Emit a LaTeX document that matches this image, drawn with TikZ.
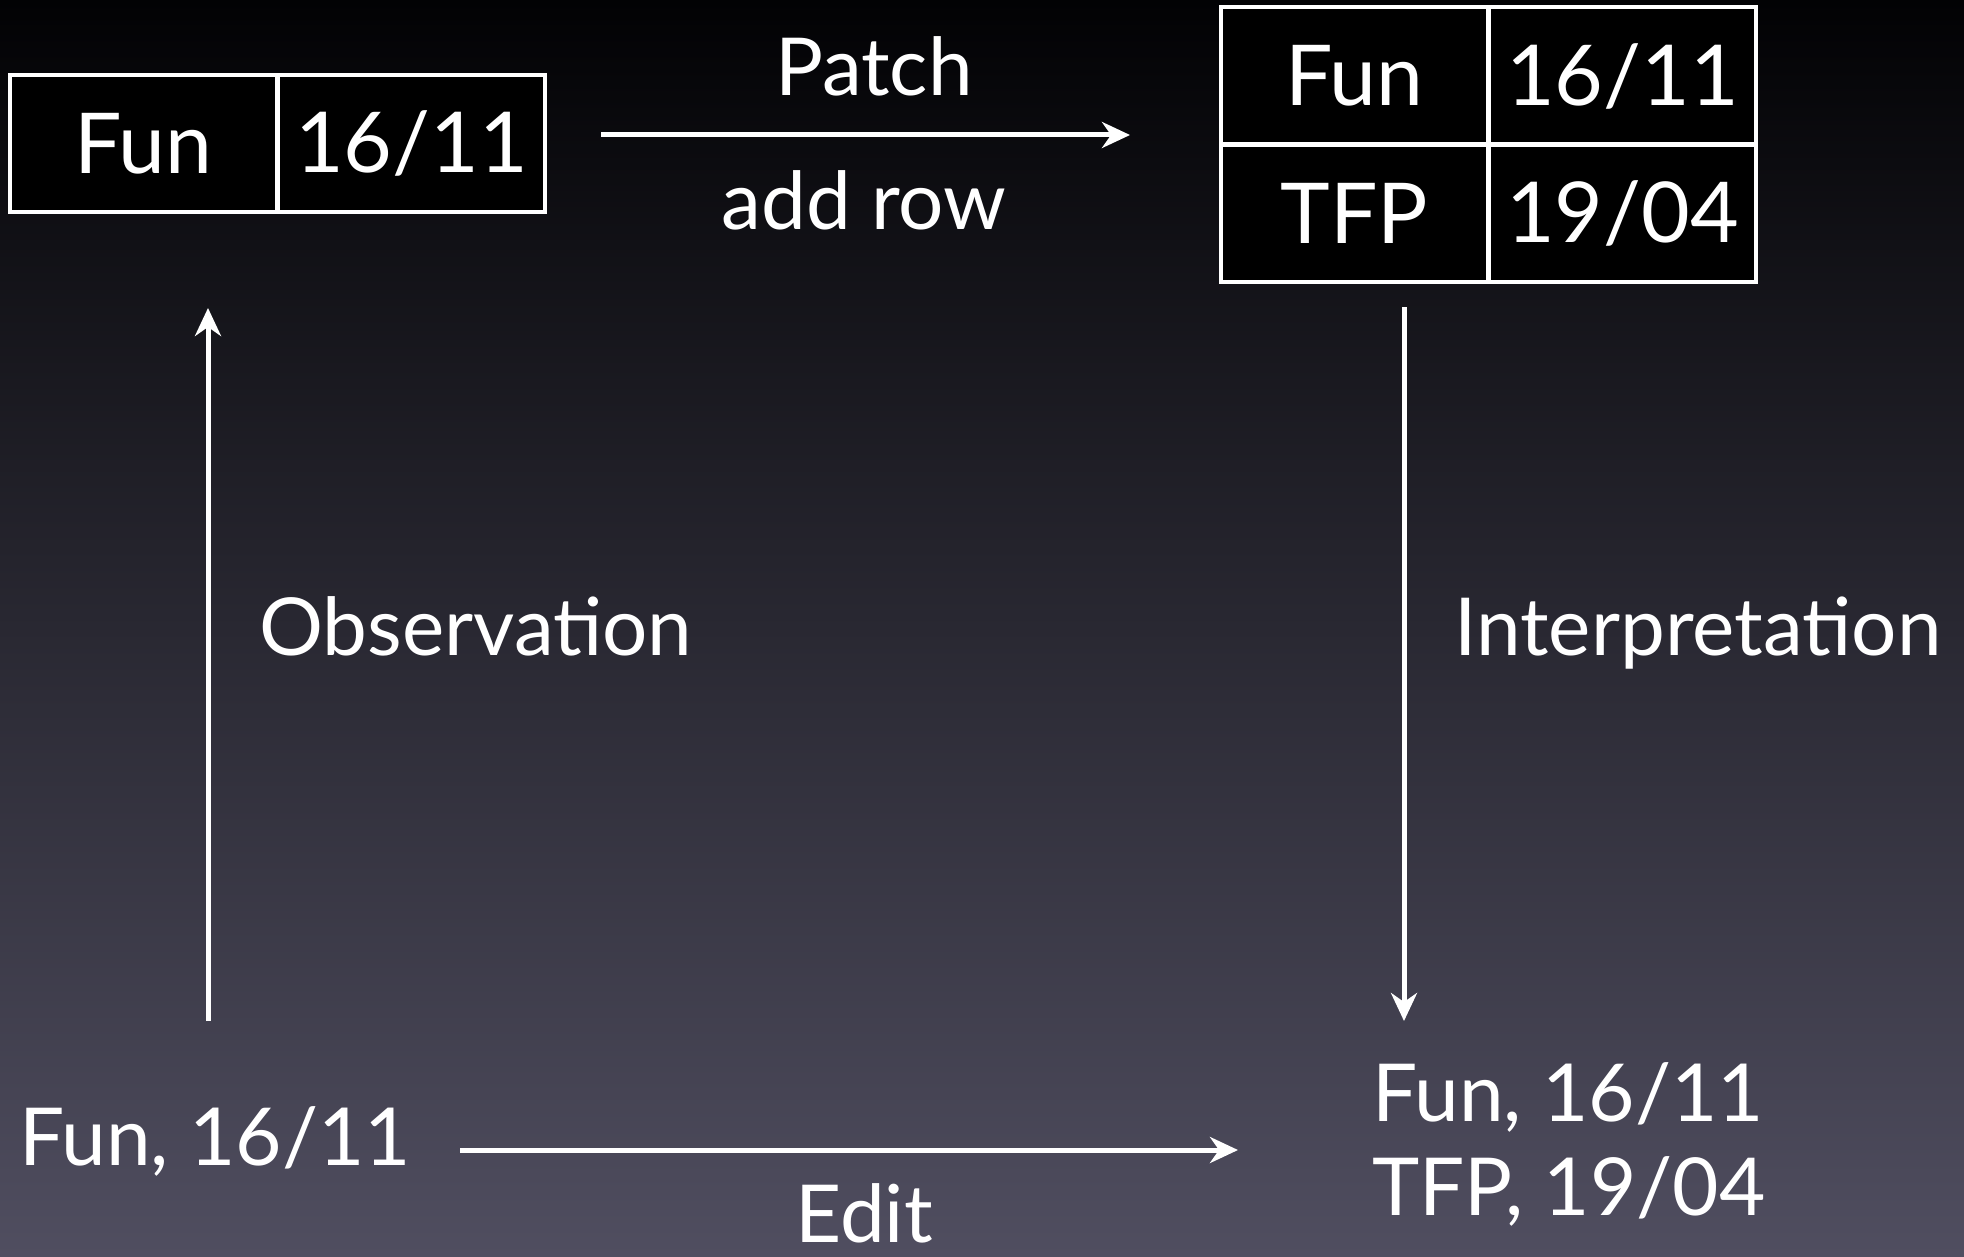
\documentclass[tikz,border=0pt]{standalone}
\usepackage{fontspec}
\setmainfont{Lato}
\usetikzlibrary{arrows.meta}
\definecolor{bgtop}{RGB}{2,2,4}
\definecolor{bgbot}{RGB}{80,78,96}
\tikzset{
  cell/.style={draw=white, line width=4pt, fill=black, text=white, minimum width=267pt, minimum height=137pt, inner sep=0pt, font=\fontsize{84}{96}\selectfont},
  lbl/.style={text=white, inner sep=0pt, font=\fontsize{80}{94}\selectfont},
  arr/.style={draw=white, line width=5pt, -{Stealth[length=28pt,width=26pt,inset=9pt]}}
}
\begin{document}
\begin{tikzpicture}[x=1pt,y=-1pt]
\useasboundingbox (0,0) rectangle (1964,1257);
\shade[top color=bgtop, bottom color=bgbot] (0,0) rectangle (1964,1257);
% left table
\node[cell] (l1) at (143.5,143.5) {Fun};
\node[cell] (l2) at (411.5,143.5) {16/11};
% right table
\node[cell] (r1) at (1354.5,76) {Fun};
\node[cell] (r2) at (1622.5,76) {16/11};
\node[cell] (r3) at (1354.5,213.5) {TFP};
\node[cell] (r4) at (1622.5,213.5) {19/04};
% labels
\node[lbl, anchor=base] (patch) at (874,96) {Patch};
\node[lbl, anchor=base] (addrow) at (864,230) {add row};
\node[lbl, anchor=base] (obs) at (476,655) {Observation};
\node[lbl, anchor=base] (interp) at (1698,655) {Interpretation};
\node[lbl, anchor=base west] (src) at (19,1165) {Fun, 16/11};
\node[lbl, anchor=base west, align=left] (dst) at (1372,1215) {Fun, 16/11\\TFP, 19/04};
\node[lbl, anchor=base] (edit) at (864,1242) {Edit};
% connector ends
\coordinate (pA) at (601,135);
\coordinate (pB) at (1130,135);
\coordinate (oA) at (208,1021);
\coordinate (oB) at (208,308);
\coordinate (iA) at (1404,307);
\coordinate (iB) at (1404,1021);
\coordinate (eA) at (460,1150);
\coordinate (eB) at (1238,1150);
\draw[arr] (pA) -- (pB);
\draw[arr] (oA) -- (oB);
\draw[arr] (iA) -- (iB);
\draw[arr] (eA) -- (eB);
\end{tikzpicture}
\end{document}
